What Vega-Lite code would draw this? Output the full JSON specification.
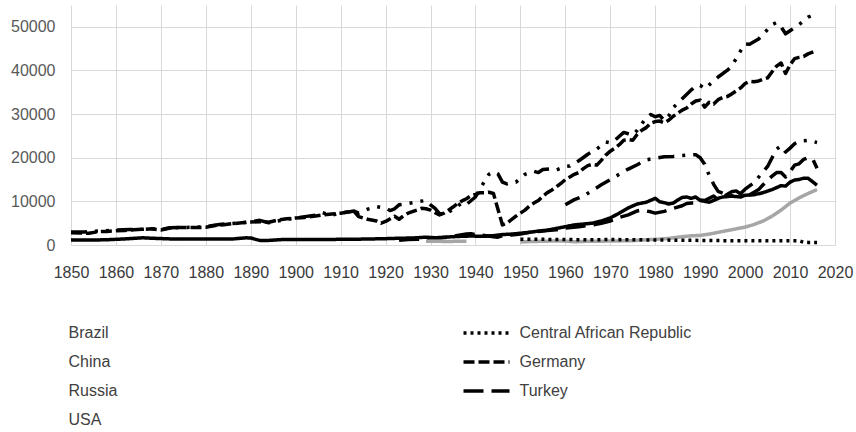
{
  "$schema": "https://vega.github.io/schema/vega-lite/v6.json",
  "autosize": {"type": "none"},
  "width": 764,
  "height": 240,
  "padding": {"left": 71, "top": 5, "right": 21, "bottom": 187},
  "background": "white",
  "config": {"view": {"stroke": null}},
  "data": {"values": [
    {"c":"USA","y":1850,"v":3000},{"c":"USA","y":1853,"v":3000},{"c":"USA","y":1856,"v":3200},{"c":"USA","y":1860,"v":3400},{"c":"USA","y":1863,"v":3550},{"c":"USA","y":1866,"v":3600},{"c":"USA","y":1868,"v":3750},{"c":"USA","y":1870,"v":3500},{"c":"USA","y":1872,"v":3950},{"c":"USA","y":1875,"v":4000},{"c":"USA","y":1878,"v":4100},{"c":"USA","y":1880,"v":4200},{"c":"USA","y":1883,"v":4700},{"c":"USA","y":1886,"v":4950},{"c":"USA","y":1889,"v":5200},{"c":"USA","y":1892,"v":5650},{"c":"USA","y":1894,"v":5100},{"c":"USA","y":1896,"v":5500},{"c":"USA","y":1898,"v":5900},{"c":"USA","y":1900,"v":6150},{"c":"USA","y":1902,"v":6500},{"c":"USA","y":1905,"v":6900},{"c":"USA","y":1906,"v":7400},{"c":"USA","y":1908,"v":6800},{"c":"USA","y":1910,"v":7400},{"c":"USA","y":1912,"v":7600},{"c":"USA","y":1913,"v":7800},{"c":"USA","y":1914,"v":7300},{"c":"USA","y":1916,"v":8200},{"c":"USA","y":1918,"v":8800},{"c":"USA","y":1920,"v":8450},{"c":"USA","y":1921,"v":7900},{"c":"USA","y":1922,"v":8300},{"c":"USA","y":1923,"v":9200},{"c":"USA","y":1925,"v":9500},{"c":"USA","y":1927,"v":9900},{"c":"USA","y":1929,"v":10200},{"c":"USA","y":1930,"v":9200},{"c":"USA","y":1931,"v":8400},{"c":"USA","y":1932,"v":7200},{"c":"USA","y":1933,"v":7000},{"c":"USA","y":1935,"v":8100},{"c":"USA","y":1937,"v":9700},{"c":"USA","y":1938,"v":9300},{"c":"USA","y":1940,"v":11000},{"c":"USA","y":1941,"v":12800},{"c":"USA","y":1942,"v":14600},{"c":"USA","y":1943,"v":16200},{"c":"USA","y":1944,"v":16800},{"c":"USA","y":1945,"v":16300},{"c":"USA","y":1946,"v":14400},{"c":"USA","y":1947,"v":14000},{"c":"USA","y":1948,"v":14300},{"c":"USA","y":1949,"v":14400},{"c":"USA","y":1950,"v":15300},{"c":"USA","y":1951,"v":16200},{"c":"USA","y":1953,"v":16900},{"c":"USA","y":1954,"v":16600},{"c":"USA","y":1955,"v":17300},{"c":"USA","y":1957,"v":17500},{"c":"USA","y":1958,"v":17200},{"c":"USA","y":1960,"v":18000},{"c":"USA","y":1961,"v":18100},{"c":"USA","y":1963,"v":19300},{"c":"USA","y":1965,"v":20800},{"c":"USA","y":1967,"v":22000},{"c":"USA","y":1969,"v":23600},{"c":"USA","y":1970,"v":23400},{"c":"USA","y":1971,"v":24000},{"c":"USA","y":1973,"v":25800},{"c":"USA","y":1974,"v":25500},{"c":"USA","y":1975,"v":25200},{"c":"USA","y":1976,"v":26300},{"c":"USA","y":1978,"v":29200},{"c":"USA","y":1979,"v":29900},{"c":"USA","y":1980,"v":29400},{"c":"USA","y":1981,"v":29700},{"c":"USA","y":1982,"v":28500},{"c":"USA","y":1983,"v":29600},{"c":"USA","y":1984,"v":31500},{"c":"USA","y":1986,"v":33500},{"c":"USA","y":1988,"v":35500},{"c":"USA","y":1989,"v":36500},{"c":"USA","y":1990,"v":36600},{"c":"USA","y":1991,"v":35800},{"c":"USA","y":1992,"v":36700},{"c":"USA","y":1994,"v":38500},{"c":"USA","y":1996,"v":40000},{"c":"USA","y":1997,"v":41000},{"c":"USA","y":1998,"v":42700},{"c":"USA","y":1999,"v":44500},{"c":"USA","y":2000,"v":46100},{"c":"USA","y":2001,"v":46000},{"c":"USA","y":2003,"v":47200},{"c":"USA","y":2005,"v":49400},{"c":"USA","y":2006,"v":50500},{"c":"USA","y":2007,"v":51000},{"c":"USA","y":2008,"v":50000},{"c":"USA","y":2009,"v":48400},{"c":"USA","y":2010,"v":49100},{"c":"USA","y":2012,"v":50500},{"c":"USA","y":2014,"v":52200},{"c":"USA","y":2016,"v":53000},

    {"c":"Germany","y":1850,"v":2800},{"c":"Germany","y":1852,"v":2750},{"c":"Germany","y":1854,"v":2700},{"c":"Germany","y":1856,"v":3050},{"c":"Germany","y":1858,"v":3100},{"c":"Germany","y":1860,"v":3250},{"c":"Germany","y":1862,"v":3350},{"c":"Germany","y":1864,"v":3500},{"c":"Germany","y":1866,"v":3600},{"c":"Germany","y":1868,"v":3700},{"c":"Germany","y":1870,"v":3450},{"c":"Germany","y":1872,"v":3900},{"c":"Germany","y":1874,"v":4000},{"c":"Germany","y":1876,"v":4000},{"c":"Germany","y":1878,"v":4000},{"c":"Germany","y":1880,"v":4050},{"c":"Germany","y":1882,"v":4450},{"c":"Germany","y":1884,"v":4650},{"c":"Germany","y":1886,"v":4900},{"c":"Germany","y":1888,"v":5100},{"c":"Germany","y":1890,"v":5250},{"c":"Germany","y":1892,"v":5350},{"c":"Germany","y":1894,"v":5200},{"c":"Germany","y":1896,"v":5700},{"c":"Germany","y":1898,"v":6000},{"c":"Germany","y":1900,"v":6200},{"c":"Germany","y":1902,"v":6300},{"c":"Germany","y":1904,"v":6600},{"c":"Germany","y":1906,"v":6900},{"c":"Germany","y":1908,"v":7100},{"c":"Germany","y":1910,"v":7300},{"c":"Germany","y":1912,"v":7600},{"c":"Germany","y":1913,"v":7700},{"c":"Germany","y":1914,"v":6500},{"c":"Germany","y":1916,"v":5900},{"c":"Germany","y":1918,"v":5500},{"c":"Germany","y":1919,"v":5000},{"c":"Germany","y":1920,"v":5400},{"c":"Germany","y":1922,"v":6600},{"c":"Germany","y":1923,"v":5900},{"c":"Germany","y":1924,"v":6700},{"c":"Germany","y":1925,"v":7300},{"c":"Germany","y":1927,"v":8000},{"c":"Germany","y":1928,"v":8400},{"c":"Germany","y":1929,"v":8300},{"c":"Germany","y":1930,"v":8000},{"c":"Germany","y":1931,"v":7400},{"c":"Germany","y":1932,"v":6900},{"c":"Germany","y":1933,"v":7300},{"c":"Germany","y":1934,"v":8000},{"c":"Germany","y":1935,"v":8700},{"c":"Germany","y":1936,"v":9500},{"c":"Germany","y":1937,"v":10100},{"c":"Germany","y":1938,"v":10600},{"c":"Germany","y":1939,"v":11300},{"c":"Germany","y":1940,"v":11600},{"c":"Germany","y":1941,"v":12000},{"c":"Germany","y":1942,"v":12000},{"c":"Germany","y":1943,"v":12100},{"c":"Germany","y":1944,"v":11800},{"c":"Germany","y":1945,"v":8200},{"c":"Germany","y":1946,"v":4600},{"c":"Germany","y":1947,"v":5000},{"c":"Germany","y":1948,"v":5800},{"c":"Germany","y":1949,"v":6600},{"c":"Germany","y":1950,"v":7300},{"c":"Germany","y":1951,"v":8000},{"c":"Germany","y":1952,"v":8900},{"c":"Germany","y":1953,"v":9600},{"c":"Germany","y":1954,"v":10200},{"c":"Germany","y":1955,"v":11200},{"c":"Germany","y":1956,"v":12000},{"c":"Germany","y":1957,"v":12600},{"c":"Germany","y":1958,"v":13300},{"c":"Germany","y":1959,"v":14100},{"c":"Germany","y":1960,"v":15000},{"c":"Germany","y":1961,"v":15600},{"c":"Germany","y":1962,"v":16200},{"c":"Germany","y":1963,"v":16600},{"c":"Germany","y":1964,"v":17500},{"c":"Germany","y":1965,"v":18200},{"c":"Germany","y":1966,"v":18500},{"c":"Germany","y":1967,"v":18300},{"c":"Germany","y":1968,"v":19400},{"c":"Germany","y":1969,"v":20600},{"c":"Germany","y":1970,"v":21500},{"c":"Germany","y":1971,"v":22200},{"c":"Germany","y":1972,"v":23000},{"c":"Germany","y":1973,"v":24000},{"c":"Germany","y":1974,"v":24200},{"c":"Germany","y":1975,"v":24000},{"c":"Germany","y":1976,"v":25400},{"c":"Germany","y":1977,"v":26300},{"c":"Germany","y":1978,"v":26900},{"c":"Germany","y":1979,"v":27900},{"c":"Germany","y":1980,"v":28300},{"c":"Germany","y":1981,"v":28400},{"c":"Germany","y":1982,"v":28000},{"c":"Germany","y":1983,"v":28600},{"c":"Germany","y":1984,"v":29500},{"c":"Germany","y":1985,"v":30200},{"c":"Germany","y":1986,"v":30900},{"c":"Germany","y":1987,"v":31400},{"c":"Germany","y":1988,"v":32300},{"c":"Germany","y":1989,"v":33000},{"c":"Germany","y":1990,"v":33200},{"c":"Germany","y":1991,"v":31600},{"c":"Germany","y":1992,"v":32700},{"c":"Germany","y":1993,"v":32300},{"c":"Germany","y":1994,"v":33300},{"c":"Germany","y":1995,"v":33800},{"c":"Germany","y":1996,"v":34000},{"c":"Germany","y":1997,"v":34600},{"c":"Germany","y":1998,"v":35300},{"c":"Germany","y":1999,"v":36000},{"c":"Germany","y":2000,"v":37000},{"c":"Germany","y":2001,"v":37500},{"c":"Germany","y":2002,"v":37400},{"c":"Germany","y":2003,"v":37600},{"c":"Germany","y":2004,"v":38000},{"c":"Germany","y":2005,"v":38300},{"c":"Germany","y":2006,"v":39700},{"c":"Germany","y":2007,"v":41000},{"c":"Germany","y":2008,"v":41700},{"c":"Germany","y":2009,"v":39300},{"c":"Germany","y":2010,"v":41300},{"c":"Germany","y":2011,"v":42700},{"c":"Germany","y":2012,"v":43000},{"c":"Germany","y":2013,"v":43200},{"c":"Germany","y":2014,"v":43800},{"c":"Germany","y":2015,"v":44200},{"c":"Germany","y":2016,"v":44600},

    {"c":"Russia","y":1960,"v":9200},{"c":"Russia","y":1962,"v":10400},{"c":"Russia","y":1964,"v":11200},{"c":"Russia","y":1966,"v":12500},{"c":"Russia","y":1968,"v":13800},{"c":"Russia","y":1970,"v":15000},{"c":"Russia","y":1972,"v":16200},{"c":"Russia","y":1974,"v":17400},{"c":"Russia","y":1976,"v":18400},{"c":"Russia","y":1978,"v":19500},{"c":"Russia","y":1980,"v":19900},{"c":"Russia","y":1982,"v":20200},{"c":"Russia","y":1984,"v":20300},{"c":"Russia","y":1986,"v":20500},{"c":"Russia","y":1987,"v":20600},{"c":"Russia","y":1989,"v":20700},{"c":"Russia","y":1990,"v":20000},{"c":"Russia","y":1991,"v":18500},{"c":"Russia","y":1992,"v":16000},{"c":"Russia","y":1993,"v":13900},{"c":"Russia","y":1994,"v":12300},{"c":"Russia","y":1996,"v":11500},{"c":"Russia","y":1998,"v":11000},{"c":"Russia","y":1999,"v":11800},{"c":"Russia","y":2000,"v":12800},{"c":"Russia","y":2002,"v":14300},{"c":"Russia","y":2004,"v":16800},{"c":"Russia","y":2005,"v":18000},{"c":"Russia","y":2006,"v":20000},{"c":"Russia","y":2007,"v":22000},{"c":"Russia","y":2008,"v":22700},{"c":"Russia","y":2009,"v":21300},{"c":"Russia","y":2010,"v":22200},{"c":"Russia","y":2011,"v":23200},{"c":"Russia","y":2012,"v":23800},{"c":"Russia","y":2014,"v":24000},{"c":"Russia","y":2016,"v":23500},

    {"c":"Turkey","y":1923,"v":1100},{"c":"Turkey","y":1925,"v":1250},{"c":"Turkey","y":1927,"v":1300},{"c":"Turkey","y":1929,"v":1500},{"c":"Turkey","y":1930,"v":1600},{"c":"Turkey","y":1932,"v":1600},{"c":"Turkey","y":1934,"v":1800},{"c":"Turkey","y":1936,"v":2200},{"c":"Turkey","y":1938,"v":2500},{"c":"Turkey","y":1939,"v":2600},{"c":"Turkey","y":1940,"v":2400},{"c":"Turkey","y":1942,"v":2200},{"c":"Turkey","y":1944,"v":1900},{"c":"Turkey","y":1945,"v":1800},{"c":"Turkey","y":1946,"v":2100},{"c":"Turkey","y":1948,"v":2300},{"c":"Turkey","y":1950,"v":2500},{"c":"Turkey","y":1952,"v":2900},{"c":"Turkey","y":1954,"v":3100},{"c":"Turkey","y":1956,"v":3300},{"c":"Turkey","y":1958,"v":3500},{"c":"Turkey","y":1960,"v":3900},{"c":"Turkey","y":1963,"v":4200},{"c":"Turkey","y":1966,"v":4600},{"c":"Turkey","y":1968,"v":5000},{"c":"Turkey","y":1970,"v":5500},{"c":"Turkey","y":1972,"v":6300},{"c":"Turkey","y":1974,"v":6900},{"c":"Turkey","y":1976,"v":7800},{"c":"Turkey","y":1977,"v":8000},{"c":"Turkey","y":1979,"v":7600},{"c":"Turkey","y":1980,"v":7300},{"c":"Turkey","y":1982,"v":7700},{"c":"Turkey","y":1984,"v":8400},{"c":"Turkey","y":1986,"v":9000},{"c":"Turkey","y":1987,"v":9500},{"c":"Turkey","y":1988,"v":9600},{"c":"Turkey","y":1989,"v":9600},{"c":"Turkey","y":1990,"v":10300},{"c":"Turkey","y":1991,"v":10200},{"c":"Turkey","y":1993,"v":11200},{"c":"Turkey","y":1994,"v":10400},{"c":"Turkey","y":1995,"v":11000},{"c":"Turkey","y":1997,"v":12200},{"c":"Turkey","y":1998,"v":12400},{"c":"Turkey","y":1999,"v":11700},{"c":"Turkey","y":2000,"v":12400},{"c":"Turkey","y":2001,"v":11500},{"c":"Turkey","y":2002,"v":12100},{"c":"Turkey","y":2003,"v":12700},{"c":"Turkey","y":2004,"v":13800},{"c":"Turkey","y":2005,"v":14800},{"c":"Turkey","y":2006,"v":15800},{"c":"Turkey","y":2007,"v":16600},{"c":"Turkey","y":2008,"v":16600},{"c":"Turkey","y":2009,"v":15600},{"c":"Turkey","y":2010,"v":16800},{"c":"Turkey","y":2011,"v":18300},{"c":"Turkey","y":2012,"v":18600},{"c":"Turkey","y":2013,"v":19600},{"c":"Turkey","y":2014,"v":20000},{"c":"Turkey","y":2015,"v":19800},{"c":"Turkey","y":2016,"v":17600},

    {"c":"Brazil","y":1850,"v":1150},{"c":"Brazil","y":1855,"v":1150},{"c":"Brazil","y":1858,"v":1200},{"c":"Brazil","y":1862,"v":1400},{"c":"Brazil","y":1866,"v":1650},{"c":"Brazil","y":1868,"v":1550},{"c":"Brazil","y":1872,"v":1400},{"c":"Brazil","y":1880,"v":1400},{"c":"Brazil","y":1886,"v":1380},{"c":"Brazil","y":1889,"v":1650},{"c":"Brazil","y":1890,"v":1600},{"c":"Brazil","y":1892,"v":1050},{"c":"Brazil","y":1894,"v":1050},{"c":"Brazil","y":1897,"v":1250},{"c":"Brazil","y":1905,"v":1250},{"c":"Brazil","y":1910,"v":1300},{"c":"Brazil","y":1915,"v":1350},{"c":"Brazil","y":1920,"v":1450},{"c":"Brazil","y":1923,"v":1550},{"c":"Brazil","y":1926,"v":1600},{"c":"Brazil","y":1929,"v":1800},{"c":"Brazil","y":1931,"v":1650},{"c":"Brazil","y":1934,"v":1850},{"c":"Brazil","y":1937,"v":2000},{"c":"Brazil","y":1939,"v":2050},{"c":"Brazil","y":1942,"v":2000},{"c":"Brazil","y":1944,"v":2150},{"c":"Brazil","y":1946,"v":2400},{"c":"Brazil","y":1948,"v":2500},{"c":"Brazil","y":1950,"v":2700},{"c":"Brazil","y":1952,"v":2900},{"c":"Brazil","y":1954,"v":3200},{"c":"Brazil","y":1956,"v":3400},{"c":"Brazil","y":1958,"v":3800},{"c":"Brazil","y":1960,"v":4200},{"c":"Brazil","y":1962,"v":4600},{"c":"Brazil","y":1964,"v":4800},{"c":"Brazil","y":1966,"v":5000},{"c":"Brazil","y":1968,"v":5500},{"c":"Brazil","y":1970,"v":6200},{"c":"Brazil","y":1972,"v":7300},{"c":"Brazil","y":1974,"v":8500},{"c":"Brazil","y":1976,"v":9400},{"c":"Brazil","y":1978,"v":9800},{"c":"Brazil","y":1980,"v":10700},{"c":"Brazil","y":1981,"v":9900},{"c":"Brazil","y":1982,"v":9700},{"c":"Brazil","y":1983,"v":9400},{"c":"Brazil","y":1984,"v":9600},{"c":"Brazil","y":1985,"v":10300},{"c":"Brazil","y":1986,"v":10900},{"c":"Brazil","y":1987,"v":11000},{"c":"Brazil","y":1988,"v":10700},{"c":"Brazil","y":1989,"v":11000},{"c":"Brazil","y":1990,"v":10200},{"c":"Brazil","y":1991,"v":10000},{"c":"Brazil","y":1992,"v":9800},{"c":"Brazil","y":1993,"v":10200},{"c":"Brazil","y":1994,"v":10700},{"c":"Brazil","y":1995,"v":11000},{"c":"Brazil","y":1997,"v":11200},{"c":"Brazil","y":1999,"v":11000},{"c":"Brazil","y":2000,"v":11400},{"c":"Brazil","y":2002,"v":11500},{"c":"Brazil","y":2004,"v":12000},{"c":"Brazil","y":2006,"v":12700},{"c":"Brazil","y":2008,"v":13600},{"c":"Brazil","y":2009,"v":13500},{"c":"Brazil","y":2010,"v":14400},{"c":"Brazil","y":2011,"v":14900},{"c":"Brazil","y":2012,"v":15000},{"c":"Brazil","y":2013,"v":15300},{"c":"Brazil","y":2014,"v":15300},{"c":"Brazil","y":2015,"v":14500},{"c":"Brazil","y":2016,"v":13700},

    {"c":"China","p":"a","y":1929,"v":850},{"c":"China","p":"a","y":1931,"v":860},{"c":"China","p":"a","y":1933,"v":820},{"c":"China","p":"a","y":1935,"v":820},{"c":"China","p":"a","y":1936,"v":880},{"c":"China","p":"a","y":1938,"v":860},
    {"c":"China","p":"b","y":1950,"v":700},{"c":"China","p":"b","y":1952,"v":800},{"c":"China","p":"b","y":1955,"v":850},{"c":"China","p":"b","y":1958,"v":950},{"c":"China","p":"b","y":1960,"v":900},{"c":"China","p":"b","y":1962,"v":750},{"c":"China","p":"b","y":1965,"v":850},{"c":"China","p":"b","y":1970,"v":900},{"c":"China","p":"b","y":1975,"v":1000},{"c":"China","p":"b","y":1978,"v":1200},{"c":"China","p":"b","y":1980,"v":1300},{"c":"China","p":"b","y":1983,"v":1500},{"c":"China","p":"b","y":1985,"v":1800},{"c":"China","p":"b","y":1988,"v":2100},{"c":"China","p":"b","y":1990,"v":2200},{"c":"China","p":"b","y":1992,"v":2500},{"c":"China","p":"b","y":1994,"v":2900},{"c":"China","p":"b","y":1996,"v":3300},{"c":"China","p":"b","y":1998,"v":3700},{"c":"China","p":"b","y":2000,"v":4100},{"c":"China","p":"b","y":2002,"v":4700},{"c":"China","p":"b","y":2004,"v":5500},{"c":"China","p":"b","y":2006,"v":6600},{"c":"China","p":"b","y":2008,"v":8000},{"c":"China","p":"b","y":2010,"v":9600},{"c":"China","p":"b","y":2012,"v":10800},{"c":"China","p":"b","y":2014,"v":11800},{"c":"China","p":"b","y":2016,"v":12700},

    {"c":"Central African Republic","y":1950,"v":1300},{"c":"Central African Republic","y":1955,"v":1300},{"c":"Central African Republic","y":1960,"v":1250},{"c":"Central African Republic","y":1965,"v":1200},{"c":"Central African Republic","y":1970,"v":1250},{"c":"Central African Republic","y":1975,"v":1200},{"c":"Central African Republic","y":1980,"v":1150},{"c":"Central African Republic","y":1985,"v":1100},{"c":"Central African Republic","y":1990,"v":1050},{"c":"Central African Republic","y":1995,"v":1000},{"c":"Central African Republic","y":2000,"v":1000},{"c":"Central African Republic","y":2005,"v":950},{"c":"Central African Republic","y":2010,"v":1000},{"c":"Central African Republic","y":2012,"v":1000},{"c":"Central African Republic","y":2013,"v":650},{"c":"Central African Republic","y":2014,"v":600},{"c":"Central African Republic","y":2016,"v":600}
  ]},
  "mark": {"type": "line", "strokeWidth": 3.5, "strokeCap": "butt", "strokeJoin": "round"},
  "encoding": {
    "x": {
      "field": "y", "type": "quantitative",
      "scale": {"domain": [1850, 2020], "nice": false, "zero": false},
      "axis": {
        "title": null,
        "values": [1850,1860,1870,1880,1890,1900,1910,1920,1930,1940,1950,1960,1970,1980,1990,2000,2010,2020],
        "format": "d", "grid": true, "gridColor": "#d9d9d9", "gridWidth": 1,
        "domain": false, "ticks": false, "labelOverlap": false, "labelFlush": false,
        "labelFont": "Liberation Sans", "labelFontSize": 16, "labelColor": "#3a3a3a", "labelPadding": 19
      }
    },
    "y": {
      "field": "v", "type": "quantitative",
      "scale": {"domain": [0, 55000], "nice": false},
      "axis": {
        "title": null,
        "values": [0,10000,20000,30000,40000,50000],
        "format": "d", "grid": true, "gridColor": "#d9d9d9", "gridWidth": 1,
        "domain": false, "ticks": false, "labelOverlap": false, "labelFlush": false,
        "labelFont": "Liberation Sans", "labelFontSize": 16, "labelColor": "#595959", "labelPadding": 16
      }
    },
    "detail": {"field": "p"},
    "color": {
      "field": "c", "type": "nominal",
      "scale": {
        "domain": ["Brazil","Central African Republic","China","Germany","Russia","Turkey","USA"],
        "range": ["#000000","#000000","#a6a6a6","#000000","#000000","#000000","#000000"]
      },
      "legend": {
        "title": null, "orient": "none", "legendX": -60.5, "legendY": 319,
        "direction": "horizontal", "columns": 2, "padding": 0,
        "symbolType": "stroke", "symbolSize": 2116, "symbolStrokeWidth": 3.5,
        "labelFont": "Liberation Sans", "labelFontSize": 16, "labelColor": "#404040", "labelOffset": 8, "labelLimit": 400,
        "clipHeight": 18, "rowPadding": 11, "columnPadding": 344,
        "encode": {"symbols": {"update": {"opacity": {"signal": "indexof(['Brazil','China','Russia','USA'], datum.value) >= 0 ? 0 : 1"}}}}
      }
    },
    "strokeDash": {
      "field": "c", "type": "nominal",
      "scale": {
        "domain": ["Brazil","Central African Republic","China","Germany","Russia","Turkey","USA"],
        "range": [[1,0],[3,4],[1,0],[11,4],[16,8,3,8],[20,8],[16,8,3,8,3,8]]
      },
      "legend": {
        "title": null, "orient": "none", "legendX": -60.5, "legendY": 319,
        "direction": "horizontal", "columns": 2, "padding": 0,
        "symbolType": "stroke", "symbolSize": 2116, "symbolStrokeWidth": 3.5,
        "labelFont": "Liberation Sans", "labelFontSize": 16, "labelColor": "#404040", "labelOffset": 8, "labelLimit": 400,
        "clipHeight": 18, "rowPadding": 11, "columnPadding": 344,
        "encode": {"symbols": {"update": {"opacity": {"signal": "indexof(['Brazil','China','Russia','USA'], datum.value) >= 0 ? 0 : 1"}}}}
      }
    }
  }
}
